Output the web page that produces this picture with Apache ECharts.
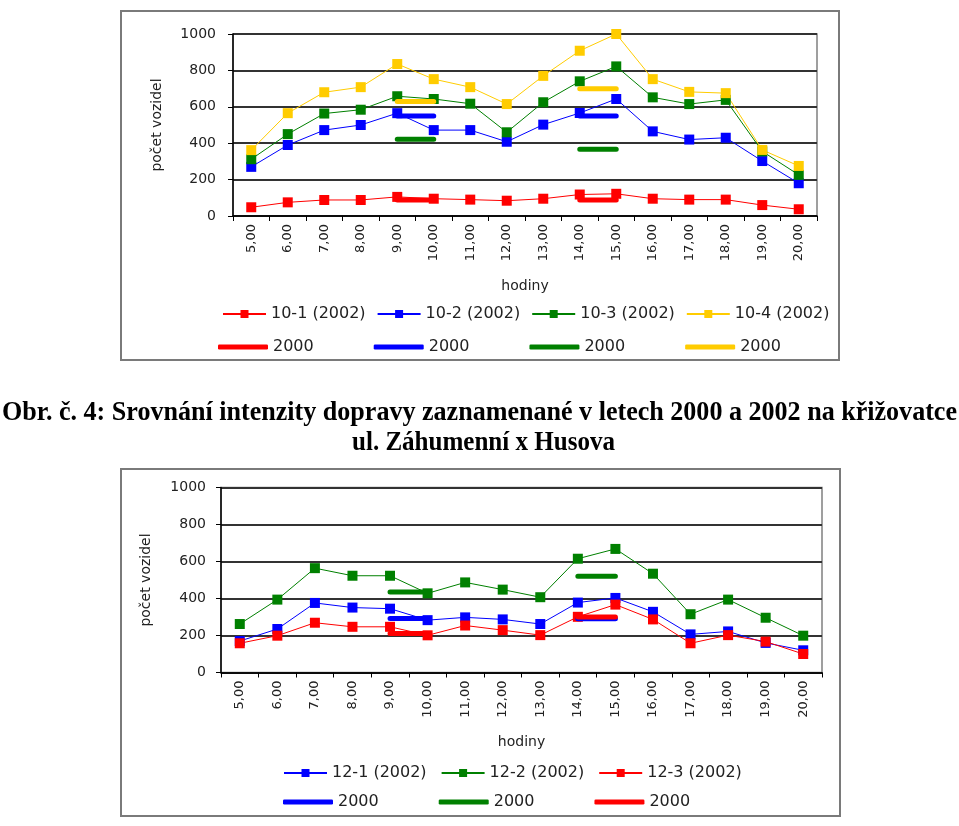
<!DOCTYPE html>
<html>
<head>
<meta charset="utf-8">
<script src="https://cdn.jsdelivr.net/npm/echarts@6.0.0/dist/echarts.min.js"></script>
<style>
html,body{margin:0;padding:0;background:#fff;}
#c{width:959px;height:826px;}
</style>
</head>
<body>
<div id="c"></div>
<script>
// ---------- data ----------
const hours = ['5,00','6,00','7,00','8,00','9,00','10,00','11,00','12,00','13,00','14,00','15,00','16,00','17,00','18,00','19,00','20,00'];
const yTicks = [0, 200, 400, 600, 800, 1000];

// chart 1 (křižovatka 10), 2002
const s10_1 = [48, 75, 88, 88, 105, 95, 90, 84, 95, 118, 122, 95, 90, 90, 60, 37];
const s10_2 = [270, 390, 472, 500, 565, 472, 472, 408, 502, 566, 643, 465, 420, 430, 302, 180];
const s10_3 = [312, 450, 563, 584, 658, 643, 617, 460, 625, 740, 822, 652, 615, 638, 355, 226];
const s10_4 = [362, 565, 680, 708, 835, 752, 708, 615, 770, 908, 1000, 752, 682, 675, 363, 275];
// chart 1, 2000 (segments 9-10 and 14-15)
const o10_1 = [null, null, null, null, 88, 88, null, null, null, 88, 88, null, null, null, null, null];
const o10_2 = [null, null, null, null, 550, 550, null, null, null, 550, 550, null, null, null, null, null];
const o10_3 = [null, null, null, null, 422, 422, null, null, null, 367, 367, null, null, null, null, null];
const o10_4 = [null, null, null, null, 629, 629, null, null, null, 699, 699, null, null, null, null, null];

// chart 2 (křižovatka 12), 2002
const s12_1 = [170, 235, 376, 351, 345, 283, 298, 287, 262, 378, 403, 328, 206, 222, 160, 120];
const s12_2 = [262, 394, 564, 523, 523, 428, 487, 448, 407, 615, 668, 534, 315, 394, 296, 199];
const s12_3 = [158, 199, 269, 247, 247, 201, 254, 229, 202, 301, 367, 287, 158, 202, 167, 100];
// chart 2, 2000
const o12_1 = [null, null, null, null, 292, 292, null, null, null, 290, 290, null, null, null, null, null];
const o12_2 = [null, null, null, null, 435, 435, null, null, null, 520, 520, null, null, null, null, null];
const o12_3 = [null, null, null, null, 211, 211, null, null, null, 300, 300, null, null, null, null, null];

const names1 = ['10-1 (2002)', '10-2 (2002)', '10-3 (2002)', '10-4 (2002)'];
const names2 = ['12-1 (2002)', '12-2 (2002)', '12-3 (2002)'];
const old1 = ['2000#a', '2000#b', '2000#c', '2000#d'];
const old2 = ['2000#e', '2000#f', '2000#g'];

const caption1 = 'Obr. č. 4: Srovnání intenzity dopravy zaznamenané v letech 2000 a 2002 na křižovatce';
const caption2 = 'ul. Záhumenní x Husova';

// ---------- styles ----------
const RED = '#ff0000', BLUE = '#0000ff', GREEN = '#008000', YEL = '#ffcc00';
const FONT = 'DejaVu Sans';
const TXT = '#222';

function lineSeries(name, data, color, gi) {
  return {
    type: 'line', name, data, xAxisIndex: gi, yAxisIndex: gi,
    symbol: 'rect', symbolSize: 10, showSymbol: true,
    lineStyle: { color, width: 1 }, itemStyle: { color },
    animation: false, silent: true, z: 3
  };
}
function oldSeries(name, data, color, gi) {
  return {
    type: 'line', name, data, xAxisIndex: gi, yAxisIndex: gi,
    symbol: 'none', connectNulls: false,
    lineStyle: { color, width: 5, cap: 'round' }, itemStyle: { color },
    animation: false, silent: true, z: 4
  };
}
function xAxis(gi) {
  return {
    type: 'category', gridIndex: gi, data: hours, boundaryGap: true,
    name: 'hodiny', nameLocation: 'middle', nameGap: 63,
    nameTextStyle: { fontFamily: FONT, fontSize: 14, color: TXT },
    axisLine: { lineStyle: { color: '#000', width: 1.5 } },
    axisTick: { show: true, alignWithLabel: false, length: 5, lineStyle: { color: '#000' } },
    axisLabel: { rotate: 90, margin: 8, fontFamily: FONT, fontSize: 13, color: TXT, interval: 0 },
    splitLine: { show: false }
  };
}
function yAxis(gi, gap, margin) {
  return {
    type: 'value', gridIndex: gi, min: yTicks[0], max: yTicks[yTicks.length - 1], interval: 200,
    name: 'počet vozidel', nameLocation: 'middle', nameGap: gap, nameRotate: 90,
    nameTextStyle: { fontFamily: FONT, fontSize: 14, color: TXT },
    axisLine: { show: true, lineStyle: { color: '#000', width: 1.5 } },
    axisTick: { show: true, length: 5, lineStyle: { color: '#000' } },
    axisLabel: { margin, fontFamily: FONT, fontSize: 14, color: TXT, formatter: v => String(v) },
    splitLine: { show: true, lineStyle: { color: '#333', width: 2 } }
  };
}
function legend(data, left, top, opts) {
  return Object.assign({
    data, left, top, orient: 'horizontal', selectedMode: false, padding: 0,
    textStyle: { fontFamily: FONT, fontSize: 16, color: TXT },
    formatter: n => n.indexOf('#') >= 0 ? n.split('#')[0] : n
  }, opts);
}

// caption scaling
const cv = document.createElement('canvas').getContext('2d');
const CAP_FONT = 'bold 27px "Liberation Serif"';
cv.font = CAP_FONT;
const sc1 = 955 / cv.measureText(caption1).width;
const sc2 = 263 / cv.measureText(caption2).width;

const chart = echarts.init(document.getElementById('c'), null, { renderer: 'canvas' });
chart.setOption({
  animation: false,
  backgroundColor: '#fff',
  grid: [
    { left: 233, top: 34, right: 959 - 817, bottom: 826 - 216, show: true, borderColor: '#808080', borderWidth: 1.5, backgroundColor: '#fff' },
    { left: 221, top: 487.5, right: 959 - 822, bottom: 826 - 672.5, show: true, borderColor: '#808080', borderWidth: 1.5, backgroundColor: '#fff' }
  ],
  xAxis: [xAxis(0), xAxis(1)],
  yAxis: [yAxis(0, 69, 17), yAxis(1, 68, 15)],
  legend: [
    legend(names1, 222, 306, { itemWidth: 43, itemHeight: 10, itemGap: 11 }),
    legend(old1, 218, 339, { icon: 'roundRect', itemWidth: 50, itemHeight: 5, itemGap: 60 }),
    legend(names2, 283, 765, { itemWidth: 43, itemHeight: 10, itemGap: 14 }),
    legend(old2, 283, 794, { icon: 'roundRect', itemWidth: 50, itemHeight: 5, itemGap: 60 })
  ],
  series: [
    lineSeries(names1[0], s10_1, RED, 0),
    lineSeries(names1[1], s10_2, BLUE, 0),
    lineSeries(names1[2], s10_3, GREEN, 0),
    lineSeries(names1[3], s10_4, YEL, 0),
    oldSeries(old1[0], o10_1, RED, 0),
    oldSeries(old1[1], o10_2, BLUE, 0),
    oldSeries(old1[2], o10_3, GREEN, 0),
    oldSeries(old1[3], o10_4, YEL, 0),
    lineSeries(names2[0], s12_1, BLUE, 1),
    lineSeries(names2[1], s12_2, GREEN, 1),
    lineSeries(names2[2], s12_3, RED, 1),
    oldSeries(old2[0], o12_1, BLUE, 1),
    oldSeries(old2[1], o12_2, GREEN, 1),
    oldSeries(old2[2], o12_3, RED, 1)
  ],
  graphic: [
    { type: 'rect', shape: { x: 121, y: 11, width: 718, height: 349 }, style: { fill: 'none', stroke: '#7a7a7a', lineWidth: 2 }, z: 0, silent: true },
    { type: 'rect', shape: { x: 121, y: 469, width: 719, height: 347 }, style: { fill: 'none', stroke: '#7a7a7a', lineWidth: 2 }, z: 0, silent: true },
    { type: 'text', x: 479.5, y: 413, scaleX: sc1, style: { text: caption1, font: CAP_FONT, fill: '#000', textAlign: 'center', textVerticalAlign: 'middle' }, silent: true },
    { type: 'text', x: 483.5, y: 443, scaleX: sc2, style: { text: caption2, font: CAP_FONT, fill: '#000', textAlign: 'center', textVerticalAlign: 'middle' }, silent: true }
  ]
});
</script>
</body>
</html>
